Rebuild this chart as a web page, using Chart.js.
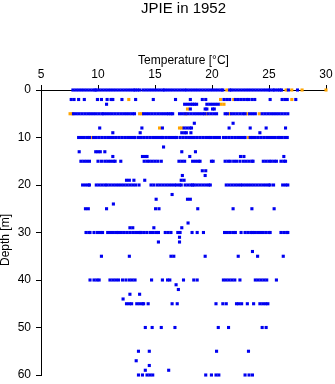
<!DOCTYPE html>
<html>
<head>
<meta charset="utf-8">
<script src="https://cdn.jsdelivr.net/npm/chart.js@4.4.1/dist/chart.umd.min.js"></script>
<style>
  html, body { margin: 0; padding: 0; background: #fff; }
  canvas { display: block; }
</style>
</head>
<body>
<canvas id="grafico" width="335" height="384"></canvas>
<script>
// ==============================
// DATOS (profundidad en m, temperatura en °C)
// ==============================

const depthLevels = [0, 2, 3, 4, 5, 7, 8, 9, 10, 12, 13, 14, 15, 17, 18, 19, 20, 22, 23, 24, 25,
  28, 29, 30, 31, 32, 34, 35, 40, 41, 42, 43, 44, 45, 50, 55, 57, 58, 59, 60];

// temperaturas azules, una lista por profundidad (mismo orden que depthLevels)
const blueTemps = [
  [7.8, 8.05, 8.3, 8.55, 8.8, 9.05, 9.3, 9.55, 9.75, 9.85, 10.1, 10.35, 10.6, 10.85, 11.1, 11.35, 11.6,
   11.85, 12.1, 12.35, 12.6, 12.85, 13.1, 13.25, 13.45, 13.65, 13.95, 14.2, 14.45, 14.7, 14.95, 15.2,
   15.45, 15.7, 15.85, 16.1, 16.35, 16.6, 16.85, 17.1, 17.35, 17.6, 17.8, 18.05, 18.3, 18.55, 18.8,
   19.05, 19.3, 19.55, 19.8, 20.05, 20.3, 20.55, 20.8, 20.95, 21.55, 21.7, 21.95, 22.2, 22.45, 22.7,
   22.95, 23.2, 23.45, 23.7, 23.95, 24.2, 24.45, 24.7, 24.95, 25.1, 25.35, 25.5, 25.75, 25.95, 26.1,
   26.7, 27.5],
  [7.65, 7.9, 8.3, 8.8, 9.95, 10.3, 10.8, 11.15, 11.3, 12.1, 13.3, 14.85, 16.8, 18.1, 19.15, 19.45,
   21.05, 21.3, 21.55, 22.05, 22.3, 22.55, 22.8, 23.05, 23.2, 23.5, 23.75, 25.1, 26.15, 26.4, 26.6, 27.35],
  [10.75, 17.6, 17.85, 18.1, 18.3, 18.45, 18.65, 19.55, 19.8, 20.05, 20.3, 20.55],
  [18.1, 19.4, 19.55, 20.05, 20.2],
  [7.85, 8.1, 8.35, 8.6, 8.85, 9.1, 9.35, 9.6, 9.85, 10.1, 10.35, 10.5, 10.75, 11.0, 11.25, 11.5, 11.75,
   12.0, 12.25, 12.5, 12.75, 13.0, 13.2, 14.0, 14.25, 14.5, 14.75, 15.0, 15.25, 15.5, 15.75, 16.0, 16.2,
   16.4, 16.55, 17.15, 17.4, 17.65, 17.9, 18.15, 18.4, 18.65, 18.9, 19.15, 19.35, 19.65, 19.9, 20.15,
   20.4, 21.15, 21.35, 21.7, 21.95, 22.2, 22.45, 22.7, 22.9, 23.3, 23.55, 23.8, 24.4, 24.65, 24.9,
   25.15, 25.4, 25.65, 25.9, 26.15, 26.4, 26.65],
  [18.45, 21.85],
  [10.15, 13.85, 15.65, 17.55, 17.8, 18.05, 18.2, 21.5, 23.35, 24.75, 26.45],
  [11.3, 13.7, 17.35, 17.6, 17.75, 18.15, 24.2],
  [8.3, 8.55, 8.8, 9.05, 9.25, 9.6, 9.85, 10.1, 10.35, 10.6, 10.85, 11.1, 11.35, 11.6, 11.85, 12.1,
   12.35, 12.6, 12.85, 13.1, 13.25, 13.55, 13.8, 14.05, 14.3, 14.55, 14.8, 15.05, 15.3, 15.55, 15.7,
   15.95, 16.2, 16.45, 16.7, 16.9, 17.2, 17.45, 17.7, 17.95, 18.2, 18.45, 18.7, 18.95, 19.2, 19.45,
   19.7, 19.9, 20.15, 20.4, 20.65, 21.0, 21.25, 21.5, 21.75, 22.0, 22.25, 22.5, 22.75, 22.9, 23.35,
   23.55, 23.8, 24.05, 24.3, 24.55, 24.8, 25.05, 25.3, 25.55, 25.8, 25.95, 26.15, 26.4, 26.6],
  [15.75],
  [8.35, 9.8, 10.0, 10.2, 10.6, 17.35, 18.55],
  [11.3, 13.9, 14.15, 14.3, 18.05, 22.5, 22.8, 26.3],
  [8.5, 8.75, 9.0, 9.25, 10.0, 10.3, 10.6, 10.85, 11.1, 11.35, 11.5, 12.0, 14.05, 14.3, 14.5, 14.75,
   15.0, 15.25, 15.55, 17.1, 17.35, 17.6, 18.3, 18.55, 18.8, 18.95, 19.95, 20.1, 21.15, 21.4, 21.6,
   21.9, 22.15, 22.45, 22.75, 23.0, 23.25, 23.5, 23.6, 24.5, 24.75, 25.0, 25.2, 25.45, 25.65, 26.05,
   26.3, 26.45],
  [19.15, 19.45],
  [17.4, 19.4],
  [12.5, 12.75, 13.15, 14.1, 17.3, 17.55],
  [8.65, 8.9, 9.15, 9.25, 9.85, 10.1, 10.35, 10.6, 10.8, 11.05, 11.3, 11.55, 11.8, 12.05, 12.3, 12.55,
   12.8, 13.05, 13.3, 13.6, 14.65, 14.9, 15.2, 15.45, 15.7, 15.95, 16.2, 16.45, 16.7, 16.9, 17.15,
   17.3, 17.65, 17.9, 18.15, 18.3, 18.45, 18.7, 18.95, 19.2, 19.45, 19.7, 19.85, 21.25, 21.5, 21.75,
   22.0, 22.25, 22.5, 22.7, 22.95, 23.2, 23.45, 23.7, 23.95, 24.2, 24.45, 24.7, 24.95, 25.1, 25.4,
   26.2, 26.45, 26.65],
  [16.5],
  [15.1, 17.85, 18.1],
  [11.35],
  [8.9, 9.15, 10.75, 15.05, 15.35, 18.75, 21.85, 23.5, 25.45],
  [17.9],
  [12.8, 13.05, 14.9, 17.35],
  [8.95, 9.2, 9.3, 9.65, 9.95, 10.2, 10.4, 10.85, 11.1, 11.35, 11.6, 11.8, 12.05, 12.3, 12.55, 12.8,
   13.05, 13.3, 13.55, 13.7, 13.8, 14.05, 14.3, 14.6, 14.85, 15.1, 15.3, 15.9, 16.15, 16.4, 17.0, 17.2,
   18.25, 18.7, 19.25, 21.1, 21.35, 21.6, 21.85, 22.05, 22.55, 22.9, 23.15, 23.4, 23.55, 23.75, 24.0,
   24.25, 24.5, 24.75, 25.0, 25.1, 26.05, 26.3, 26.55, 26.65],
  [17.15],
  [15.3, 17.15],
  [23.55],
  [10.3, 12.75, 16.4, 16.65, 19.4, 22.3, 24.0, 26.25],
  [9.3, 9.65, 9.9, 10.1, 11.05, 11.3, 11.55, 11.8, 12.15, 12.45, 12.75, 13.0, 13.25, 14.7, 15.65,
   16.1, 16.3, 17.5, 18.4, 18.7, 21.0, 21.25, 21.5, 21.75, 22.0, 22.45, 23.8, 24.05, 24.3, 24.55,
   24.8, 25.65],
  [16.85],
  [17.05],
  [12.8, 13.65],
  [12.2],
  [12.5, 12.75, 12.95, 13.4, 13.65, 13.9, 14.0, 14.4, 16.5, 16.95, 20.35, 20.95, 21.25, 22.15, 22.35,
   22.6, 23.1, 23.65, 24.2, 24.45, 24.7, 24.9],
  [14.15, 14.75, 15.55, 16.75, 20.55, 21.45, 24.4, 24.75],
  [13.55, 14.5, 20.4, 23.2],
  [13.35],
  [14.5],
  [14.15, 16.2],
  [13.55, 13.9, 14.3, 14.55, 14.8, 19.45, 19.95, 20.35, 20.6, 22.9, 23.25, 23.55]
];

// temperaturas naranjas
const orangeDepths = [0, 2, 3, 4, 5, 8, 10];
const orangeTemps = [
  [21.3, 26.5, 27.0, 27.9, 30.0],
  [12.7, 20.75, 21.9, 27.0],
  [20.8, 21.05],
  [17.85],
  [7.55, 7.75, 13.65, 13.85, 17.7, 19.5, 21.55, 23.1, 24.15],
  [15.4, 17.15, 17.35],
  [9.4, 23.2]
];

const xTicks = [5, 10, 15, 20, 25, 30];
const yTicks = [0, 10, 20, 30, 40, 50, 60];

function toPoints(depths, temps) {
  const pts = [];
  depths.forEach((d, i) => temps[i].forEach(t => pts.push({ x: t, y: d })));
  return pts;
}

// ==============================
// GRÁFICO
// ==============================
Chart.defaults.font.family = "'Liberation Sans', Arial, sans-serif";
Chart.defaults.color = "#000";

const TITLE_H = 16;

// etiqueta del eje Y (un poco por debajo del centro, como en el original)
const etiquetaProfundidad = {
  id: "etiquetaProfundidad",
  afterDraw(chart) {
    const c = chart.ctx;
    c.save();
    c.translate(5.5, 240);
    c.rotate(-Math.PI / 2);
    c.font = "12px 'Liberation Sans', Arial, sans-serif";
    c.fillStyle = "#000";
    c.textAlign = "center";
    c.textBaseline = "middle";
    c.fillText("Depth [m]", 0, 0);
    c.restore();
  }
};

const ctx = document.getElementById("grafico").getContext("2d");

const grafico = new Chart(ctx, {
  type: "scatter",
  data: {
    datasets: [
      {
        data: toPoints(depthLevels, blueTemps),
        backgroundColor: "#0000f0",
        pointStyle: "rect",
        pointRadius: 2.2,
        pointBorderWidth: 0,
        clip: false
      },
      {
        data: toPoints(orangeDepths, orangeTemps),
        backgroundColor: "#ffa500",
        pointStyle: "rect",
        pointRadius: 2.2,
        pointBorderWidth: 0,
        clip: false
      }
    ]
  },
  options: {
    responsive: false,
    animation: false,
    devicePixelRatio: 1,
    layout: { padding: { left: 0, right: 9, top: 0, bottom: 9 } },
    plugins: {
      legend: { display: false },
      tooltip: { enabled: false },
      title: {
        display: true,
        fullSize: false,
        text: "JPIE in 1952",
        color: "#000",
        font: { size: 15, weight: "normal", lineHeight: 1 },
        padding: { top: 1, bottom: 0 }
      }
    },
    scales: {
      x: {
        type: "linear",
        position: "top",
        min: 5,
        max: 30,
        afterBuildTicks: s => { s.ticks = xTicks.map(v => ({ value: v })); },
        ticks: { font: { size: 12 }, padding: 3, maxRotation: 0 },
        grid: { drawOnChartArea: false, drawTicks: true, tickLength: 5, color: "#000" },
        border: { color: "#000", width: 1 },
        title: {
          display: true,
          text: "Temperature [°C]",
          font: { size: 12 },
          padding: { top: 37, bottom: 0 }
        },
        afterFit: s => {
          s.height = 90 - TITLE_H;
          s.paddingLeft = 0;
          s.paddingRight = 0;
        }
      },
      y: {
        type: "linear",
        reverse: true,
        min: 0,
        max: 60,
        afterBuildTicks: s => { s.ticks = yTicks.map(v => ({ value: v })); },
        ticks: { font: { size: 12 }, padding: 5 },
        grid: { drawOnChartArea: false, drawTicks: true, tickLength: 5, color: "#000" },
        border: { color: "#000", width: 1 },
        afterFit: s => {
          s.width = 41;
          s.paddingTop = 0;
          s.paddingBottom = 0;
        }
      }
    }
  },
  plugins: [etiquetaProfundidad]
});
</script>
</body>
</html>
